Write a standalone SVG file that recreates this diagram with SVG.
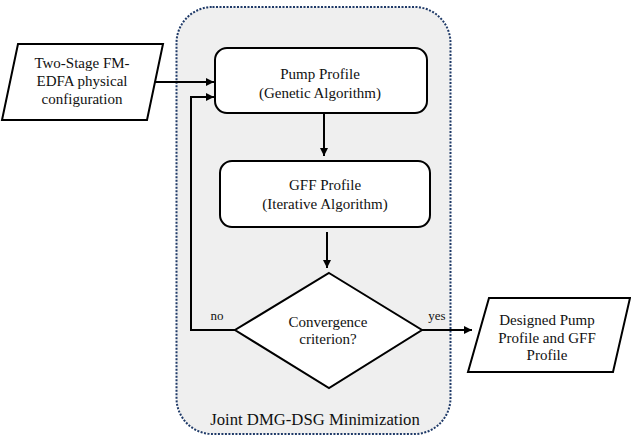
<svg xmlns="http://www.w3.org/2000/svg" width="631" height="444" viewBox="0 0 631 444">
<defs>
<marker id="ah" viewBox="0 0 10 10" refX="10" refY="5" markerWidth="8" markerHeight="8" markerUnits="userSpaceOnUse" orient="auto">
<path d="M0,0 L10,5 L0,10 z" fill="#000"/>
</marker>
<style>
text{font-family:'Liberation Serif','DejaVu Serif','Times New Roman',serif;fill:#111;text-anchor:middle;font-size:15px}
.box{fill:#fff;stroke:#000;stroke-width:2}
.conn{fill:none;stroke:#000;stroke-width:2;marker-end:url(#ah)}
</style>
</defs>
<rect width="631" height="444" fill="#fff"/>
<g id="container">
<rect x="176.500" y="7" width="274" height="427" rx="36" fill="#efefef" stroke="#1f3a68" stroke-width="2" stroke-dasharray="2,1.500"/>
<text x="315" y="425" style="font-size:16.700px">Joint DMG-DSG Minimization</text>
</g>
<g id="connectors">
<path class="conn" d="M155,82 H214"/>
<path class="conn" d="M235,330 H191 V97 H214"/>
<path class="conn" d="M324,114 V156"/>
<path class="conn" d="M327,232 V268"/>
<path class="conn" d="M422,330 H472"/>
<text x="217" y="320" style="font-size:13px">no</text>
<text x="437" y="320" style="font-size:13px">yes</text>
</g>
<g id="input">
<path class="box" d="M18,44 H163 L147,120 H2 Z"/>
<text x="82" y="68">Two-Stage FM-</text>
<text x="82" y="86">EDFA physical</text>
<text x="82" y="104">configuration</text>
</g>
<g id="pump">
<rect class="box" x="215" y="48" width="212" height="65" rx="12"/>
<text x="320" y="79">Pump Profile</text>
<text x="320" y="98">(Genetic Algorithm)</text>
</g>
<g id="gff">
<rect class="box" x="220" y="161" width="210" height="66" rx="12"/>
<text x="325" y="190">GFF Profile</text>
<text x="325" y="209">(Iterative Algorithm)</text>
</g>
<g id="decision">
<path class="box" d="M329,273 L422,330 L329,388 L235,330 Z"/>
<text x="328" y="327">Convergence</text>
<text x="328" y="344">criterion?</text>
</g>
<g id="output">
<path class="box" d="M489,298 H630 L613,372 H468 Z"/>
<text x="547" y="325">Designed Pump</text>
<text x="547" y="343">Profile and GFF</text>
<text x="547" y="360">Profile</text>
</g>
</svg>
